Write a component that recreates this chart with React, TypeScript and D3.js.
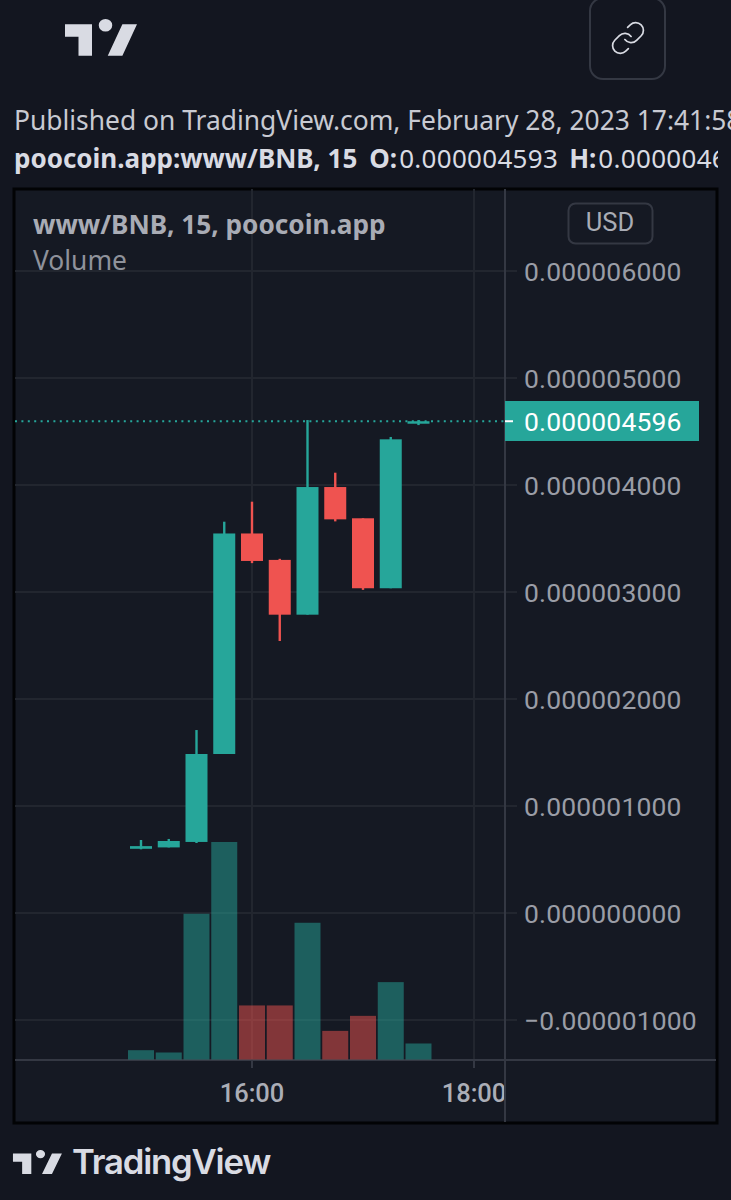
import React from "react";
import * as d3 from "d3";

const times = ["15:00","15:15","15:30","15:45","16:00","16:15","16:30","16:45","17:00","17:15","17:30"];
const opens  = [0.600,0.613,0.664,1.486,3.547,3.300,2.788,3.981,3.689,3.035,4.593];
const highs  = [0.682,0.692,1.710,3.657,3.844,3.310,4.607,4.115,3.689,4.449,4.607];
const lows   = [0.595,0.613,0.654,1.486,3.270,2.542,2.788,3.660,3.020,3.035,4.560];
const closes = [0.625,0.673,1.486,3.547,3.290,2.788,3.981,3.679,3.035,4.427,4.596];
const volumes = [9.3,7,145.6,217.3,54,54,136.6,28.6,43.6,77.3,16];
const priceTicks = [6,5,4,3,2,1,0,-1];
const timeTicks = ["16:00","18:00"];
const lastPrice = 4.596;

const UP = "#26a69a", DOWN = "#ef5350";
const PAGE = "#131620", PANEL = "#151923", GRID = "#22262f", LINE = "#343843";
const LOGO = "M14 6H2v6h6v9h6V6zm14 15h-7l6.5-15H34l-6.5 15zM20 9.5a3 3 0 1 1 0-6 3 3 0 0 1 0 6z";
const toDate = d3.timeParse("%H:%M");

export default function App() {
  const x = d3.scaleTime().domain([toDate("16:00")!, toDate("18:00")!]).range([252, 474]);
  const y = d3.scaleLinear().domain([0, 6]).range([913, 271]);
  const v = d3.scaleLinear().domain([0, d3.max(volumes)!]).range([1059.5, 842]);
  const fmt = (d: number) => (d < 0 ? "\u2212" : "") + (Math.abs(d) / 1e6).toFixed(9);
  const roboto = "Roboto, sans-serif";
  const noto = "'Noto Sans', sans-serif";
  return (
    <svg width={731} height={1200} style={{ position: "absolute", left: 0, top: 0, background: PAGE }}>
      <defs>
        <clipPath id="hdr"><rect x={0} y={140} width={718} height={40} /></clipPath>
        <clipPath id="axis"><rect x={15} y={1060} width={490} height={62} /></clipPath>
      </defs>
      <rect width={731} height={1200} fill={PAGE} />
      <g transform="translate(60.5,11.6) scale(2.25,2.1)"><path d={LOGO} fill="#d9dbe3" /></g>
      <rect x={590} y={-2} width={75} height={81} rx={13} fill="none" stroke="#343843" strokeWidth={2} />
      <g transform="translate(609.4,19.4) scale(1.55)" fill="none" stroke="#d9dbe3" strokeWidth={1.1} strokeLinecap="round">
        <path d="M10 13a5 5 0 0 0 7.54.54l3-3a5 5 0 0 0-7.07-7.07l-1.72 1.71" />
        <path d="M14 11a5 5 0 0 0-7.54-.54l-3 3a5 5 0 0 0 7.07 7.07l1.71-1.71" />
      </g>
      <text x={14} y={130} fill="#c8cad2" fontFamily={noto} fontSize={26.4}>Published on TradingView.com, February 28, 2023 17:41:58</text>
      <g clipPath="url(#hdr)" fontFamily={noto} fontSize={26}>
        <text x={14} y={168} fill="#d9dbe3">
          <tspan fontWeight={700}>poocoin.app:www/BNB, 15</tspan>
          <tspan dx={12} fontWeight={700}>O:</tspan><tspan dx={2} letterSpacing={0.3}>0.000004593</tspan>
          <tspan dx={11} fontWeight={700}>H:</tspan><tspan dx={2} letterSpacing={0.3}>0.000004607</tspan>
        </text>
      </g>

      <rect x={14} y={189} width={703} height={934} fill={PANEL} stroke="#020305" strokeWidth={3} />
      {priceTicks.map((d) => (
        <g key={d}>
          <line x1={15} x2={517} y1={y(d)} y2={y(d)} stroke={GRID} strokeWidth={2} />
          <text x={524} y={y(d) + 9.5} fill="#9a9da6" fontFamily={roboto} fontSize={26.5} letterSpacing={0.15}>{fmt(d)}</text>
        </g>
      ))}
      {timeTicks.map((t) => {
        const px = x(toDate(t)!);
        return (
          <g key={t}>
            <line x1={px} x2={px} y1={189} y2={1060} stroke={GRID} strokeWidth={2} />
            <line x1={px} x2={px} y1={1060} y2={1068} stroke={LINE} strokeWidth={2} />
            <text x={px} y={1102} textAnchor="middle" clipPath="url(#axis)" fill="#abaeb7" fontFamily={roboto} fontWeight={500} fontSize={25.5}>{t}</text>
          </g>
        );
      })}
      <line x1={15} x2={716} y1={1060} y2={1060} stroke={LINE} strokeWidth={2} />
      <line x1={505} x2={505} y1={189} y2={1122} stroke={LINE} strokeWidth={2} />

      {times.map((t, i) => {
        const cx = x(toDate(t)!);
        const up = closes[i] >= opens[i];
        return (
          <rect key={t} x={cx - 13} width={26} y={v(volumes[i])} height={1059.5 - v(volumes[i])} fill={up ? UP : DOWN} fillOpacity={0.5} />
        );
      })}

      <line x1={15} x2={505} y1={y(lastPrice)} y2={y(lastPrice)} stroke={UP} strokeWidth={2} strokeDasharray="2 4.4" />

      {times.map((t, i) => {
        const cx = x(toDate(t)!);
        const up = closes[i] >= opens[i];
        const c = up ? UP : DOWN;
        const top = y(Math.max(opens[i], closes[i]));
        const bot = y(Math.min(opens[i], closes[i]));
        return (
          <g key={t}>
            <line x1={cx} x2={cx} y1={y(highs[i])} y2={y(lows[i])} stroke={c} strokeWidth={2.4} />
            <rect x={cx - 11} width={22} y={top} height={Math.max(bot - top, 2.5)} fill={c} />
          </g>
        );
      })}

      <rect x={505} y={401} width={194} height={40} fill={UP} />
      <line x1={505} x2={513} y1={y(lastPrice)} y2={y(lastPrice)} stroke="#fff" strokeWidth={2} />
      <text x={524} y={431} fill="#fff" fontFamily={roboto} fontSize={26.5} letterSpacing={0.15}>{fmt(lastPrice)}</text>

      <text x={33} y={234} fill="#a9acb5" fontFamily={noto} fontWeight={700} fontSize={26.2}>www/BNB, 15, poocoin.app</text>
      <text x={33} y={270} fill="#8f929b" fontFamily={noto} fontSize={26.4}>Volume</text>
      <rect x={568.5} y={203.5} width={84} height={40} rx={7} fill={PANEL} stroke="#343843" strokeWidth={2} />
      <text x={610} y={231} textAnchor="middle" fill="#a9acb5" fontFamily={roboto} fontSize={25.5}>USD</text>

      <g transform="translate(9.9,1145.2) scale(1.53,1.37)"><path d={LOGO} fill="#d9dbe3" /></g>
      <text x={72} y={1174} fill="#d9dbe3" fontFamily="Inter, sans-serif" fontWeight={600} fontSize={34.7} letterSpacing={-1.2}>TradingView</text>
    </svg>
  );
}
